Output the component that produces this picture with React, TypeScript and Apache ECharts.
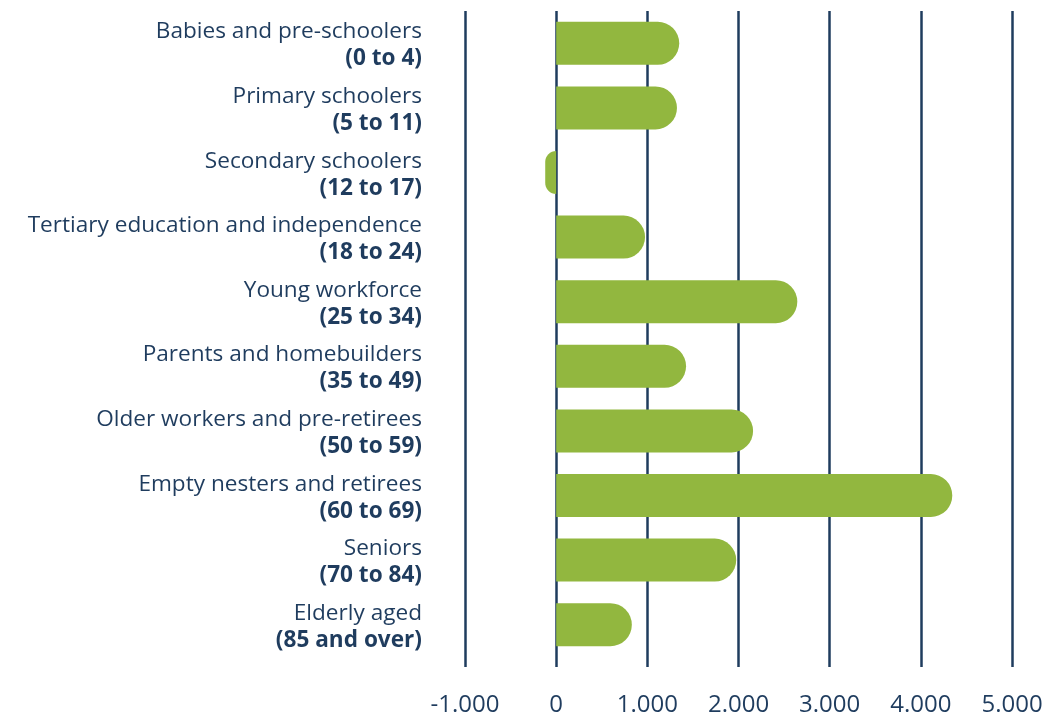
import React, { useEffect, useRef } from "react";
import * as echarts from "echarts";

const groupNames = [
  "Babies and pre-schoolers",
  "Primary schoolers",
  "Secondary schoolers",
  "Tertiary education and independence",
  "Young workforce",
  "Parents and homebuilders",
  "Older workers and pre-retirees",
  "Empty nesters and retirees",
  "Seniors",
  "Elderly aged",
];
const ageRanges = [
  "(0 to 4)",
  "(5 to 11)",
  "(12 to 17)",
  "(18 to 24)",
  "(25 to 34)",
  "(35 to 49)",
  "(50 to 59)",
  "(60 to 69)",
  "(70 to 84)",
  "(85 and over)",
];
const changeValues = [1350, 1325, -120, 975, 2645, 1425, 2160, 4345, 1975, 830];

const NAVY = "#1f3c5e";
const GREEN = "#92b73f";
const FONT = "'Open Sans'";

function fmt(v: number): string {
  const s = Math.abs(v).toString().replace(/\B(?=(\d{3})+(?!\d))/g, ".");
  return (v < 0 ? "-" : "") + s;
}

export default function App() {
  const ref = useRef<HTMLDivElement>(null);
  useEffect(() => {
    if (!ref.current) return;
    const chart = echarts.init(ref.current, null, { renderer: "svg" });
    const cats = groupNames.map((n, i) => n + "\n" + ageRanges[i]);
    chart.setOption({
      animation: false,
      grid: { left: 465, right: 37, top: 11, bottom: 49, containLabel: false },
      xAxis: {
        type: "value",
        min: -1000,
        max: 5000,
        interval: 1000,
        axisLine: { show: false },
        axisTick: { show: true, length: 10, lineStyle: { color: NAVY, width: 2.5 } },
        splitLine: { show: true, lineStyle: { color: NAVY, width: 2.5 } },
        axisLabel: {
          formatter: (v: number) => fmt(v),
          color: NAVY,
          fontFamily: FONT,
          fontSize: 24,
          lineHeight: 24,
          margin: 33,
        },
      },
      yAxis: {
        type: "category",
        inverse: true,
        data: cats,
        axisLine: { show: false },
        axisTick: { show: false },
        axisLabel: {
          margin: 43,
          formatter: (v: string) => {
            const [a, b] = v.split("\n");
            return "{n|" + a + "}\n{b|" + b + "}";
          },
          rich: {
            n: { color: NAVY, fontFamily: FONT, fontSize: 22.6, lineHeight: 27, align: "right" },
            b: { color: NAVY, fontFamily: FONT, fontSize: 22.6, fontWeight: "bold", lineHeight: 27, align: "right" },
          },
        },
      },
      series: [
        {
          type: "bar",
          barWidth: 43,
          z: 1,
          data: changeValues.map((v) => ({
            value: v,
            itemStyle: {
              color: GREEN,
              borderRadius: v >= 0 ? [0, 21.5, 21.5, 0] : [21.5, 0, 0, 21.5],
            },
          })),
        },
      ],
    });
    return () => chart.dispose();
  }, []);
  return (
    <div
      ref={ref}
      style={{ position: "fixed", left: 0, top: 0, width: 1049, height: 714 }}
    />
  );
}
